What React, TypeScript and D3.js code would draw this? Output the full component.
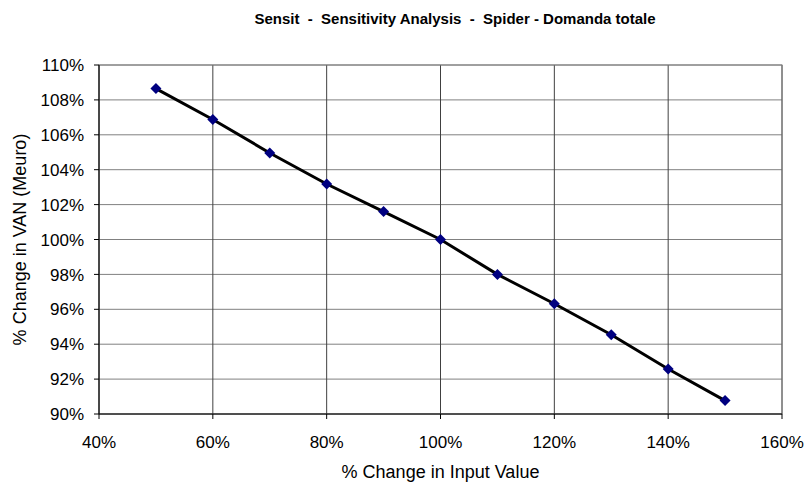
import * as d3 from 'd3';

// % change in input value
const inputChange = [50, 60, 70, 80, 90, 100, 110, 120, 130, 140, 150];
// % change in VAN (Meuro)
const vanChange = [108.65, 106.88, 104.96, 103.18, 101.6, 100.0, 98.0, 96.32, 94.54, 92.58, 90.77];

const xTicks = [40, 60, 80, 100, 120, 140, 160];
const yTicks = [90, 92, 94, 96, 98, 100, 102, 104, 106, 108, 110];

const title = 'Sensit  -  Sensitivity Analysis  -  Spider - Domanda totale';
const xTitle = '% Change in Input Value';
const yTitle = '% Change in VAN (Meuro)';

const W = 807;
const H = 484;
const margin = { top: 65, right: 25, bottom: 70, left: 99 };

export default function App() {
  const innerW = W - margin.left - margin.right;
  const innerH = H - margin.top - margin.bottom;

  const x = d3.scaleLinear().domain([40, 160]).range([0, innerW]);
  const y = d3.scaleLinear().domain([90, 110]).range([innerH, 0]);

  const line = d3
    .line<number>()
    .x((_, i) => x(inputChange[i]))
    .y((d) => y(d));

  const font = '"Liberation Sans", Arial, sans-serif';

  return (
    <svg
      width={W}
      height={H}
      style={{ position: 'absolute', left: 0, top: 0, background: '#fff' }}
      fontFamily={font}
    >
      <text x={455} y={24} textAnchor="middle" fontSize={15} fontWeight="bold" style={{ whiteSpace: 'pre' }}>
        {title}
      </text>
      <g transform={`translate(${margin.left},${margin.top})`}>
        {/* horizontal gridlines */}
        {yTicks.map((t) => (
          <line key={'gy' + t} x1={0} x2={innerW} y1={y(t)} y2={y(t)} stroke="#808080" strokeWidth={1} />
        ))}
        {/* vertical gridlines */}
        {xTicks.map((t) => (
          <line key={'gx' + t} x1={x(t)} x2={x(t)} y1={0} y2={innerH} stroke="#404040" strokeWidth={1} />
        ))}
        <rect x={0} y={0} width={innerW} height={innerH} fill="none" stroke="#808080" />
        {/* axes */}
        <line x1={0} x2={0} y1={0} y2={innerH} stroke="#000" />
        <line x1={0} x2={innerW} y1={innerH} y2={innerH} stroke="#000" />
        {yTicks.map((t) => (
          <g key={'ty' + t}>
            <line x1={-5} x2={0} y1={y(t)} y2={y(t)} stroke="#000" />
            <text x={-15} y={y(t)} dy="0.36em" textAnchor="end" fontSize={17}>
              {t}%
            </text>
          </g>
        ))}
        {xTicks.map((t) => (
          <g key={'tx' + t}>
            <line x1={x(t)} x2={x(t)} y1={innerH} y2={innerH + 5} stroke="#000" />
            <text x={x(t)} y={innerH + 34} textAnchor="middle" fontSize={17}>
              {t}%
            </text>
          </g>
        ))}
        <path d={line(vanChange) || ''} fill="none" stroke="#000" strokeWidth={3} />
        {vanChange.map((v, i) => {
          const cx = x(inputChange[i]);
          const cy = y(v);
          const r = 5.5;
          return (
            <path
              key={'m' + i}
              d={`M${cx},${cy - r}L${cx + r},${cy}L${cx},${cy + r}L${cx - r},${cy}Z`}
              fill="#000080"
            />
          );
        })}
      </g>
      <text x={margin.left + innerW / 2} y={478} textAnchor="middle" fontSize={18}>
        {xTitle}
      </text>
      <text
        transform={`translate(26,${margin.top + innerH / 2}) rotate(-90)`}
        textAnchor="middle"
        fontSize={18}
      >
        {yTitle}
      </text>
    </svg>
  );
}
